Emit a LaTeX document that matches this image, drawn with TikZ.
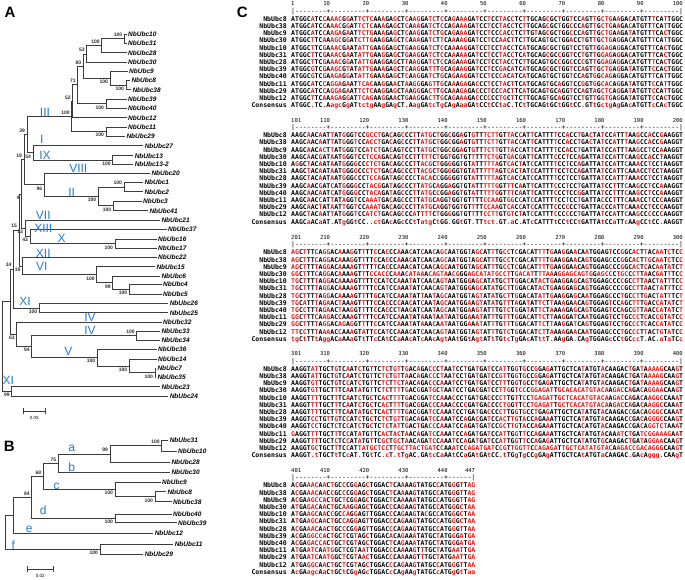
\documentclass[tikz,border=0pt]{standalone}
\usepackage{fontspec}
\setmainfont{Liberation Sans}
\setmonofont{DejaVu Sans Mono}
\usetikzlibrary{positioning}

\definecolor{alnred}{RGB}{228,20,20}
\definecolor{treeline}{RGB}{60,60,60}
\definecolor{cladeblue}{RGB}{35,125,205}
\definecolor{bootgray}{RGB}{45,45,45}

\ExplSyntaxOn
\str_new:N \l__aln_cons_str
\str_new:N \l__aln_seq_str
\int_new:N \l__aln_pos_int
\NewDocumentCommand \alnseq { m m }
  {
    \str_set:Nx \l__aln_cons_str {#1}
    \str_set:Nx \l__aln_seq_str {#2}
    \int_zero:N \l__aln_pos_int
    \str_map_inline:Nn \l__aln_seq_str
      {
        \int_incr:N \l__aln_pos_int
        \str_if_eq:eeTF {##1} { \str_item:Nn \l__aln_cons_str { \l__aln_pos_int } }
          { ##1 } { \textcolor{alnred}{##1} }
      }
  }
\NewDocumentCommand \alncons { m }
  {
    \str_set:Nx \l__aln_cons_str {#1}
    \str_map_inline:Nn \l__aln_cons_str
      { \str_case:nnF {##1} { {A}{A} {C}{C} {G}{G} {T}{T} } { \textcolor{alnred}{##1} } }
  }
\NewDocumentCommand \alnruler { m }
  {
    \int_step_inline:nn {#1}
      {
        \bool_lazy_or:nnTF { \int_compare_p:nNn {##1} = {1} } { \int_compare_p:nNn {##1} = {#1} }
          { | }
          { \int_compare:nNnTF { \int_mod:nn {##1} {10} } = {0} {+} {-} }
      }
  }
\ExplSyntaxOff

\def\sx{291}
\def\cw{3.92}
\def\consA{ATGGC.TC.AagcGgATtctgAAgGAgCT.AagGAtcTgCAgAaaGAtCCtCCtaC.TCtTGCAGtGCtGGtCC.GTtGctgAgGAcATGTTcCAcTGGC}
\def\consB{AAGCaACaAT.ATgGGtCC..ctGAcAGcCCtTatgCtGG.GGtGT.TTtct.GT.aC.ATcCATTTtCCtCCtGATTAtCCaTTcAAgCCtCC.AAGGT}
\def\consC{tgCtTTtAggACaAAaGTtTTcCAtCCaAAcATcAAcAgtAAtGGtAgtATtTGtcTgGAcATttT.AAgGA.CAgTGGAGcCCtGCccT.AC.aTaTCc}
\def\consD{AAGGT.tTGCTtTCcAT.TGtTC.cT.tTgAC.GAtcCaAAtCCaGAtGAtCC.tTGgTgCCgGAgATTGCTCAtATGTaCAAGAC.GAcAggg.CAAgT}
\def\consE{AcGAagcAaCtGCtCGgAGcTGGACcCAgAAgTATGCcATGgGtTaa}

\tikzset{
  branch/.style={draw=treeline, line width=0.75pt},
  leaf/.style={anchor=west, inner xsep=1.3pt, inner ysep=0pt, text height=4.7pt, text depth=0pt,
    font=\fontsize{6.5}{7}\selectfont\bfseries\itshape},
  boot/.style={inner xsep=0.4pt, inner ysep=1.8pt, xshift=-1.5pt, text=bootgray,
    font=\fontsize{5}{5}\selectfont\bfseries},
  bootup/.style={boot, anchor=south east},
  bootdn/.style={boot, anchor=north east},
  clade/.style={inner sep=0pt, text=cladeblue, font=\fontsize{12}{12}\selectfont},
  panel/.style={inner sep=0pt, font=\fontsize{15}{15}\selectfont\bfseries},
  scalelab/.style={inner sep=0pt, font=\fontsize{4.5}{5}\selectfont},
  seqname/.style={anchor=east, inner sep=0pt, text height=4.6pt, text depth=0pt,
    font=\ttfamily\bfseries\fontsize{6.51}{7}\selectfont},
  seqtext/.style={anchor=west, inner sep=0pt, text height=4.6pt, text depth=0pt,
    font=\ttfamily\bfseries\fontsize{6.51}{7}\selectfont},
  rulertext/.style={anchor=west, inner sep=0pt, font=\ttfamily\fontsize{6.51}{7}\selectfont},
  numtext/.style={inner sep=0pt, font=\ttfamily\fontsize{5.5}{6}\selectfont},
}

\begin{document}
\begin{tikzpicture}[x=1pt,y=-1pt]
\useasboundingbox (0,0) rectangle (685,580);

\node[panel] (pA) at (10,12) {A};
\node[panel] (pB) at (9.3,446) {B};
\node[panel] (pC) at (242.3,12) {C};

% tree A
\foreach \id/\x/\y/\t in {a10/126.7/34.3/NbUbc10, a31/126.7/43.3/NbUbc31, a28/126.7/52.7/NbUbc28,
  a30/126.7/62.3/NbUbc30, a9/127.7/71.3/NbUbc9, a8/130/80.3/NbUbc8, a38/131/89.7/NbUbc38,
  a39/126.7/99/NbUbc39, a40/126.7/108.3/NbUbc40, a12/126.7/117.7/NbUbc12, a11/126.7/127/NbUbc11,
  a29/125/136/NbUbc29, a27/143.3/145.7/NbUbc27, a13/133.3/155.7/NbUbc13, a132/133.3/164.3/NbUbc13-2,
  a20/150/173.3/NbUbc20, a1/143/182.3/NbUbc1, a2/143/191.7/NbUbc2, a3/141.7/201/NbUbc3,
  a41/148/210.7/NbUbc41, a21/160/220/NbUbc21, a37/166.7/229.3/NbUbc37, a16/156.7/239/NbUbc16,
  a17/156.7/248.3/NbUbc17, a22/156.7/257.3/NbUbc22, a15/155/266.7/NbUbc15, a6/160/276/NbUbc6,
  a4/161.7/284.3/NbUbc4, a5/161.7/294/NbUbc5, a26/168.3/303.3/NbUbc26, a25/168.3/312.7/NbUbc25,
  a32/161.7/322/NbUbc32, a33/160/331/NbUbc33, a34/160/340/NbUbc34, a36/156.7/349/NbUbc36,
  a14/156.7/359/NbUbc14, a7/156/368.3/NbUbc7, a35/156/377.3/NbUbc35, a23/160/386.7/NbUbc23,
  a24/168.3/396/NbUbc24}
  \node[leaf] (\id) at (\x,\y) {\t};

\foreach \id/\x/\y in {n1031/124.3/38.8, n100b/101.7/45.75, n53/86.7/54.03, n838/126/85,
  n9/110/78.15, n80/83.3/66.09, n3940/106/103.65, n71/77.7/84.87, n52/72.7/101.29,
  n1129/106/131.5, nIII/71.7/116.4, nIX/112.7/160, nI/33/152.85, n39/27/134.63,
  n12/124/187, n341/113.3/205.85, nII/98.3/196.43, n96/44.3/184.87, n19/24/159.75,
  nX/115/243.65, n43/30/236.48, n13/25/228.24, n4/21.5/194, n45/129.3/289.15,
  n99/112.7/282.58, nVI/96.7/274.64, n19b/22.5/265.97, n15/19/229.99, nXI/39.3/308,
  n34/13.5/269, nIV/136.7/335.5, n735/155/372.8, n14/129.3/365.9, nV/97.3/357.45,
  n94/31.7/346.48, n63/16.7/334.24, nM/10/301.62, nXI2/11.7/391.35, nR/2.7/346.49}
  \coordinate (\id) at (\x,\y);

\foreach \p/\c in {n1031/a10, n1031/a31, n100b/n1031, n100b/a28, n53/n100b, n53/a30,
  n838/a8, n838/a38, n9/a9, n9/n838, n80/n53, n80/n9, n3940/a39, n3940/a40, n71/n80,
  n71/n3940, n52/n71, n52/a12, n1129/a11, n1129/a29, nIII/n52, nIII/n1129, nIX/a13,
  nIX/a132, nI/a27, nI/nIX, n39/nIII, n39/nI, n12/a1, n12/a2, n341/a3, n341/a41,
  nII/n12, nII/n341, n96/a20, n96/nII, n19/n39, n19/n96, nX/a16, nX/a17, n43/a37,
  n43/nX, n13/a21, n13/n43, n4/n19, n4/n13, n45/a4, n45/a5, n99/a6, n99/n45, nVI/a15,
  nVI/n99, n19b/a22, n19b/nVI, n15/n4, n15/n19b, nXI/a26, nXI/a25, n34/n15, n34/nXI,
  nIV/a33, nIV/a34, n735/a7, n735/a35, n14/a14, n14/n735, nV/a36, nV/n14, n94/nIV,
  n94/nV, n63/a32, n63/n94, nM/n34, nM/n63, nXI2/a23, nXI2/a24, nR/nM, nR/nXI2}
  \draw[branch] (\p) |- (\c);

\foreach \n/\v in {n1031/100, n100b/100, n53/53, n80/80, n71/71, n52/52, nIII/100,
  n39/39, n19/19, n12/100, n15/15, n34/34, nIV/100}
  \node[bootup] (t-\n) at (\n) {\v};
\foreach \n/\v in {n838/100, n9/100, n3940/100, n1129/100, nI/54, nIX/100, n341/100,
  nII/100, n96/96, n4/4, n13/13, n43/43, nX/100, n19b/19, nVI/100, n99/99, n45/100,
  nXI/100, n63/63, n94/94, nV/100, n14/100, n735/100, nXI2/99}
  \node[bootdn] (t-\n) at (\n) {\v};

\foreach \id/\x/\y/\t in {cIII/45/112.7/III, cI/41.7/139.5/I, cIX/45/155/IX,
  cVIII/78.3/168.3/VIII, cII/71.7/192.7/II, cVII/43.3/215/VII, cXIII/43.3/228.3/XIII,
  cX/61.7/238.3/X, cXII/43.3/253.3/XII, cVI/41.7/266.7/VI, cXIa/25/301.7/XI,
  cIVa/90/317.3/IV, cIVb/90/330.7/IV, cV/68.3/351.7/V, cXIb/8.3/380/XI}
  \node[clade] (\id) at (\x,\y) {\t};

\coordinate (sa1) at (22.7,411);
\coordinate (sa2) at (46,411);
\draw[branch, line width=0.6pt, |-|] (sa1) -- (sa2);
\node[scalelab] (sla) at (34.3,417.5) {0.05};

% tree B
\foreach \id/\x/\y/\t in {b31/168.3/440/NbUbc31, b10/176.7/451/NbUbc10, b28/170/462.3/NbUbc28,
  b30/170/472.3/NbUbc30, b9/160.7/482/NbUbc9, b8/166/491.7/NbUbc8, b38/171.7/501.7/NbUbc38,
  b40/171.7/514.3/NbUbc40, b39/176.7/522.7/NbUbc39, b12/153.3/533.3/NbUbc12,
  b11/173.3/544.3/NbUbc11, b29/143.3/554.3/NbUbc29}
  \node[leaf] (\id) at (\x,\y) {\t};

\foreach \id/\x/\y in {m3110/161.7/445.5, m99/110/453.9, m75/58.3/463.1, m838/155/496.7,
  m9/115/489.35, m68/43.3/476.23, m4039/115/518.5, m84/31.7/497.36, me/13.3/515.33,
  m1129/100/549.3, mroot/5/532.3}
  \coordinate (\id) at (\x,\y);

\foreach \p/\c in {m3110/b31, m3110/b10, m99/m3110, m99/b28, m75/m99, m75/b30, m838/b8,
  m838/b38, m9/b9, m9/m838, m68/m75, m68/m9, m4039/b40, m4039/b39, m84/m68, m84/m4039,
  me/m84, me/b12, m1129/b11, m1129/b29, mroot/me, mroot/m1129}
  \draw[branch] (\p) |- (\c);

\foreach \n/\v in {m3110/100, m99/99, m75/75, m68/68, m84/84}
  \node[bootup] (t-\n) at (\n) {\v};
\foreach \n/\v in {m838/100, m9/100, m4039/100, m1129/100}
  \node[bootdn] (t-\n) at (\n) {\v};

\foreach \id/\x/\y/\t in {ca/71.7/448/a, cb/71.7/467.7/b, cc/56.7/486/c, cd/43.3/510/d,
  ce/29.3/529.3/e, cf/13.3/545/f}
  \node[clade] (\id) at (\x,\y) {\t};

\coordinate (sb1) at (26.7,569);
\coordinate (sb2) at (54,569);
\draw[branch, line width=0.6pt, |-|] (sb1) -- (sb2);
\node[scalelab] (slb) at (40.3,575.5) {0.02};

% alignment C
\node[numtext, anchor=west] (h1-1) at (\sx,3.5) {1};
\foreach \k in {10,20,...,100}
  \node[numtext, anchor=east] (h1-\k) at ({\sx+\k*\cw},3.5) {\k};
\node[rulertext] (r1) at (\sx,11.5) {\alnruler{100}};
\foreach \nm/\dna [count=\i from 0] in {
  NbUbc8/ATGGCATCCAAACGGATTCTCAAAGAGCTCAAGGATCTCCAGAAAGATCCTCCTACCTCTTGCAGCGCTGGTCCAGTTGCTGAAGACATGTTTCATTGGC,
  NbUbc38/ATGGCATCCAAACGGATTCTCAAAGAGCTCAAAGATCTCCAGAAAGATCCTCCTACCTCTTGCAGCGCTGGCCCAGTTGCTGAAGACATGTTTCATTGGC,
  NbUbc9/ATGGCATCCAAGAGAATTCTGAAAGAGCTCAAGGATCTGCAGAAAGATCCTCCCACCTCTTGTAGCGCTGGCCCAGTTGCTGAAGATATGTTTCACTGGC,
  NbUbc30/ATGGCTTCAAAGCGGATCTTGAAGGAGCTCAAAGATCTTCAAAAGGATCCTCCAACTTCTTGCAGTGCTGGACCTGTTGCTGAGGACATGTTTCATTGGC,
  NbUbc10/ATGGCTTCGAAACGAATATTGAAGGAGCTGAAGGATCTCCAAAAGGATCCTCCTACCTCATGCAGCGCTGGTCCTGTTGGAGAGGACATGTTTCACTGGC,
  NbUbc31/ATGGCTTCGAAACGAATATTGAAGGAGCTGAAGGATCTCCAAAAAGATCCTCCTACCTCATGCAGCGCCGGTCCTGTTGGAGAGGACATGTTTCACTGGC,
  NbUbc28/ATGGCTTCGAAACGGATATTGAAGGAGCTTAAGGATCTCCAGAAAGATCCTCCTACCTCTTGCAGTGCCGGCCCCGTTGGAGAGGACATGTTTCACTGGC,
  NbUbc39/ATGGCGTCGAAGCGTATATTGAAAGAGCTCAAGGATTTGCAGAAGGATCCTCCGACATCATGCAGCGCTGGTCCAGTTGCTGAGGATATGTTCCACTGGC,
  NbUbc40/ATGGCGTCGAAGAGGATATTGAAAGAGCTCAAGGATCTGCAGAAGGATCCTCCCACATCATGCAGTGCTGGTCCAGTGGCAGAGGACATGTTTCATTGGC,
  NbUbc11/ATGGCATCCAGGAGAATTCACAAGGAACTAAGGGAGTTGCAAAGAGACCCTCCTACTTCATGCAGTGCAGGTCCGGTGGCACAGGATATGTTCCATTGGC,
  NbUbc29/ATGGCATCCAGGAGAATTCTCAAGGAGCTAAGGGACTTGCAAAGAGACCCTCCCACTTCATGCAGTGCAGGTCCAGTAGCTCAGGATATGTTCCATTGGC,
  NbUbc12/ATGGCTTCAAAGAGGATTCAGAAGGAACTGAAGGACTTGCAGAAAGACCCCCCTGCTTCTTGCAGTGCAGGTCCTGTTGGTGAGGATATGTTCCACTGGC}{
  \node[seqname] (nm1-\i) at (287,{19+7.2*\i}) {\nm};
  \node[seqtext] (sq1-\i) at (\sx,{19+7.2*\i}) {\alnseq{\consA}{\dna}};
}
\node[seqname] (nm1-c) at (287,{19+7.2*12}) {Consensus};
\node[seqtext] (sq1-c) at (\sx,{19+7.2*12}) {\alncons{\consA}};

\node[numtext, anchor=west] (h2-1) at (\sx,120) {101};
\foreach \k [evaluate=\k as \lab using int(\k+100)] in {10,20,...,100}
  \node[numtext, anchor=east] (h2-\k) at ({\sx+\k*\cw},120) {\lab};
\node[rulertext] (r2) at (\sx,128) {\alnruler{100}};
\foreach \nm/\dna [count=\i from 0] in {
  NbUbc8/AAGCAACAATTATGGGTCCGCCTGACAGCCCTTATGCTGGCGGAGTGTTTCTTGTTACCATTCATTTTCCACCTGACTATCCATTTAAGCCACCGAAGGT,
  NbUbc38/AAGCAACAATTATGGGTCCACCTGACAGCCCTTATGCTGGCGGAGTGTTTCTTGTTACCATTCATTTTCCACCTGACTATCCATTTAAGCCACCGAAGGT,
  NbUbc9/AAGCAACACTTATGGGTCCATCTGACAGTCCTTATGCTGGCGGAGTGTTTCTTGTTACCATTCATTTTCCACCTGATTATCCATTTAAGCCTCCAAAGGT,
  NbUbc30/AAGCAACGATAATGGGTCCTCCAGACAGTCCTTTTTCTGGTGGTGTTTTTCTGGTGACGATTCATTTCCCTCCAGATTATCCATTCAAGCCACCTAAGGT,
  NbUbc10/AGGCTACAATAATGGGGCCCTCTGACAGCCCTTACGCTGGGGGTGTATTTTTAGTCACTATCCATTTTCCTCCAGATTATCCATTCAAACCTCCTAAGGT,
  NbUbc31/AAGCTACAATAATGGGGCCCTCTGACAGCCCTTACGCTGGGGGTGTATTTTTAGTCACTATCCATTTTCCTCCAGATTATCCATTCAAACCTCCTAAGGT,
  NbUbc28/AAGCTACAATAATGGGCCCTCCAGATAGCCCCTACACCGGGGGTGTATTTTTAGTCACCATCCATTTTCCTCCTGATTATCCATTTAAACCTCCTAAGGT,
  NbUbc39/AAGCAACGATCATGGGGCCTACGGATAGCCCTTATGCAGGAGGTGTATTTTTGGTTTCAATTCATTTCCCTCCTGATTATCCTTTCAAGCCTCCAAAGGT,
  NbUbc40/AAGCAACAATCATGGGGCCTACAGATAGCCCTTATGCCGGAGGTGTATTTTTGGTTTCAATTCATTTCCCTCCGGATTATCCTTTCAAGCCTCCAAAGGT,
  NbUbc11/AAGCAACCATTATAGGTCCAAATGACAGCCCTTATGCAGGTGGTGTTTTCCAAGTGGCCATCCATTTTCCTCCTGATTACCCTTTCAAACCTCCCAAGGT,
  NbUbc29/AAGCAACTATAATTGGTCCAAATGACAGCCCTTATGCAGGTGGTGTTTTCCAAGTCACCATCCATTTCCCCCCTGATTACCCATTCAAACCTCCCAAGGT,
  NbUbc12/AAGCTACAATTATGGGTCCATCTGACAGCCCATTTTCTGGGGGTGTTTTCCTTGTGTCTATCCATTTCCCCCCTGATTATCCATTCAAGCCCCCCAAGGT}{
  \node[seqname] (nm2-\i) at (287,{135.5+7.2*\i}) {\nm};
  \node[seqtext] (sq2-\i) at (\sx,{135.5+7.2*\i}) {\alnseq{\consB}{\dna}};
}
\node[seqname] (nm2-c) at (287,{135.5+7.2*12}) {Consensus};
\node[seqtext] (sq2-c) at (\sx,{135.5+7.2*12}) {\alncons{\consB}};

\node[numtext, anchor=west] (h3-1) at (\sx,237) {201};
\foreach \k [evaluate=\k as \lab using int(\k+200)] in {10,20,...,100}
  \node[numtext, anchor=east] (h3-\k) at ({\sx+\k*\cw},237) {\lab};
\node[rulertext] (r3) at (\sx,245) {\alnruler{100}};
\foreach \nm/\dna [count=\i from 0] in {
  NbUbc8/AGCTTTCAGGACAAAGGTTTTCCACCCAAACATCAACAGCAATGGTAGCATTTGCCTCGACATTTTGAAGGAACAATGGAGTCCGGCACTTACAATCTCC,
  NbUbc38/AGCTTTCAGGACAAAGGTTTTCCACCCAAACATCAACAGCAATGGTAGCATTTGCCTCGACATTTTGAAGGAACAGTGGAGCCCGGCACTTGCAATCTCC,
  NbUbc9/AGCTTTTAGGACAAAAGTTTTTCACCCAAACATCAACAGCAATGGTAGCATTTGCCTCGACATTTTGAAGGAACAGTGGAGCCCGGCACTCACAATATCT,
  NbUbc30/GGCTTTCAGGACAAAAGTTTCCACCCAAACATAAACAGTAACGGGAGCATATGCCTTGACATTTTAAAGGAGCAGTGGAGCCCTGCCCTTAACGATTTCC,
  NbUbc10/TGCTTTTAGGACAAAAGTTTTCCATCCAAATATCAACAGTAATGGGAGCATATGCTTGGACATACTGAAGGAGCAGTGGAGCCCCGCCTTAACTATTTCC,
  NbUbc31/TGCTTTTAGGACAAAAGTTTTCCATCCAAATATCAACAGTAATGGGAGCATATGCTTGGACATACTGAAGGAGCAGTGGAGCCCCGCCTTAACTATTTCC,
  NbUbc28/TGCTTTTAGGACAAAAGTTTTGCATCCAAATATTAATAGCAATGGTAGTATATGCTTGGACATATTGAAGGAGCAATGGAGCCCTGCCTTGACTATTTCT,
  NbUbc39/TGCATTTAGAACTAAAGTTTTCCACCCCAACATCAATAGCAATGGAAGTATATGTTTAGATATTCTTAAAGAACAGTGGAGTCCAGCTTTGACCATATCT,
  NbUbc40/TGCCTTTAGAACTAAGGTTTTCCACCCTAACATCAATAGCAATGGAAGTATTTGTCTGGATATTCTAAAAGAGCAGTGGAGTCCAGCGTTAACCATATCT,
  NbUbc11/GGCTTTCAAGACCAAAGTTTTCCATCCAAATATAAATAATAATGGAAATATTTGTTTGGACATTCTTAAGGATCAATGGAGTCCTGCCCTCACCGTATCC,
  NbUbc29/GGCTTTTAGGACAGAGGTTTTCCATCCAAATATAAACAATAATGGAAATATTTGTTTGGACATTCTTAAGGATCAGTGGAGTCCTGCCCTCACCATATCC,
  NbUbc12/TTCCTTTAAAACCAAAGTATTCCATCCAAACATCAACAGTAATGGTAGTATTTGTCTGGACATCTTAAAAGAACAATGGAGCCCTGCCCTTACTGTATCC}{
  \node[seqname] (nm3-\i) at (287,{252.5+7.2*\i}) {\nm};
  \node[seqtext] (sq3-\i) at (\sx,{252.5+7.2*\i}) {\alnseq{\consC}{\dna}};
}
\node[seqname] (nm3-c) at (287,{252.5+7.2*12}) {Consensus};
\node[seqtext] (sq3-c) at (\sx,{252.5+7.2*12}) {\alncons{\consC}};

\node[numtext, anchor=west] (h4-1) at (\sx,353.5) {301};
\foreach \k [evaluate=\k as \lab using int(\k+300)] in {10,20,...,100}
  \node[numtext, anchor=east] (h4-\k) at ({\sx+\k*\cw},353.5) {\lab};
\node[rulertext] (r4) at (\sx,361.5) {\alnruler{100}};
\foreach \nm/\dna [count=\i from 0] in {
  NbUbc8/AAGGTATTGCTGTCAATCTGTTCTCTGTTGACAGACCCTAATCCTGATGATCCATTGGTGCCGGAGATTGCTCATATGTACAAGACTGATAAAAGCAAGT,
  NbUbc38/AAGGTATTGCTGTCAATCTGTTCTCTGTTAACAGACCCTAATCCTGATGATCCGTTGGTGCCGGAGATTGCTCATATGTACAAGACTGATAAAAGCAAGT,
  NbUbc9/AAGGTGTTGCTGTCCATCTGTTCTCTTCTAACAGACCCAAATCCTGATGATCCTTTGGTGCCTGAGATTGCTCATATGTACAAGACTGATAAAAGCAAGT,
  NbUbc30/AAGGTGTTGCTTTCAATATGTTCTCTTTTGACGGATGCTAATCCTGACGATCCTTGGTCCCGGAGATTGCACACATGTACAAGACCAGACAGGAACAAGT,
  NbUbc10/AAGGTTTTGCTTTCAATCTGCTCACTTTTGACGGATCCAAACCCTGATGACCCCTTGTTCCTGAGATTGCTCACATGTACAAGACCAGACAAGGCCAAAT,
  NbUbc31/AAGGTTTTGCTTTCAATCTGCTCACTTTTGACGGACCCAAACCCCGATGACCCCTGGTTCCTGAGATTGCTCACATGTACAAGACCAGACAAGGCCAAAT,
  NbUbc28/AAGGTTTTGCTTTCAATATGCTCACTTTTGACGGATCCAAATCCTGATGACCCCTTGGTGCCTGAGATTGCTCATATGTACAAGACCGACAGGGCCAAAT,
  NbUbc39/AAGGTCCTGTTGTCCATCTGCTCTCTGTTGACAGATCCAAATCCAGACGATCCACTTGTACCAGAAATTGCTCATATGTACAAGACCGACAGGGCCAAGT,
  NbUbc40/AAGGTCCTGCTCTCCATCTGCTCTCTATTGACTGACCCAAATCCAGATGATCCGCTTGTACCAGAAATTGCTCACATGTACAAGACCGACAGGTCTAAAT,
  NbUbc11/GAGGTTTTGCTTTCCATATGTTCACTACTAACAGATCCAAATCCAGATGATCCATTGGTTCCAGAAATTGCTCATATGTACAAATCTGATCGGAAAGAAT,
  NbUbc29/AAGGTTTTGCTCTCCATATGTTCGCTGCTAACAGATCCAAATCCAGATGATCCATTGGTTCCAGAGATTGCTCATATGTGCAAGACTGATAGGAACAAGT,
  NbUbc12/AAGGTGCTGCTTTCCATTATGCTCCTTGCTTACTGATCCAAATCCAGATGATCCGTTGGTTCCAGAGATTGCTCATATGTACAAGACCGACAGGGCAAGT}{
  \node[seqname] (nm4-\i) at (287,{369+7.2*\i}) {\nm};
  \node[seqtext] (sq4-\i) at (\sx,{369+7.2*\i}) {\alnseq{\consD}{\dna}};
}
\node[seqname] (nm4-c) at (287,{369+7.2*12}) {Consensus};
\node[seqtext] (sq4-c) at (\sx,{369+7.2*12}) {\alncons{\consD}};

\node[numtext, anchor=west] (h5-1) at (\sx,470) {401};
\foreach \k [evaluate=\k as \lab using int(\k+400)] in {10,20,30,40,47}
  \node[numtext, anchor=east] (h5-\k) at ({\sx+\k*\cw},470) {\lab};
\node[rulertext] (r5) at (\sx,478) {\alnruler{47}};
\foreach \nm/\dna [count=\i from 0] in {
  NbUbc8/ACGAAACAACTGCCCGGAGCTGGACTCAAAAGTATGCCATGGGTTAG,
  NbUbc38/ACGAAACAACCGCCCGGAGCTGGACTCAAAAGTATGCCATGGGTTAG,
  NbUbc9/ACGAAGCCACTGCTCGGAGCTGGACTCAAAAATATGCCATGGGTTAG,
  NbUbc30/ATGAGACAACTGCAAGGAGCTGGACCCAGAAGTATGCCATGGGCTAA,
  NbUbc10/ATGAAGCAACCGCCAGGAGTTGGACCCAGAAGTACGCCATGGGCTAA,
  NbUbc31/ATGAAGCAACTGCCAGGAGTTGGACCCAGAAGTATGCCATGGGCTAA,
  NbUbc28/ACGAAACAACTGCCCGGAGTTGGACCCAGAAGTATGCCATGGGTTAA,
  NbUbc39/ACGAGGCCACTGCTCGTAGCTGGACACAGAAATATGCTATGGGATGA,
  NbUbc40/ACGAGACCACTGCTCGTAGCTGGACTCAGAAATATGCTATGGGATGA,
  NbUbc11/ATGAATCAATGGCTCGTAATTGGACCCAAAAGTTTGCTATGAATTGA,
  NbUbc29/ATGAATCAATGGCTCGTAACTGGACCCAAAAGTTTGCTATGAATTGA,
  NbUbc12/ATGAGGCAACTGCTCGTAGCTGGACCCAGAAGTATGCCATGGGTTAA}{
  \node[seqname] (nm5-\i) at (287,{485.5+7.2*\i}) {\nm};
  \node[seqtext] (sq5-\i) at (\sx,{485.5+7.2*\i}) {\alnseq{\consE}{\dna}};
}
\node[seqname] (nm5-c) at (287,{485.5+7.2*12}) {Consensus};
\node[seqtext] (sq5-c) at (\sx,{485.5+7.2*12}) {\alncons{\consE}};
\end{tikzpicture}
\end{document}
